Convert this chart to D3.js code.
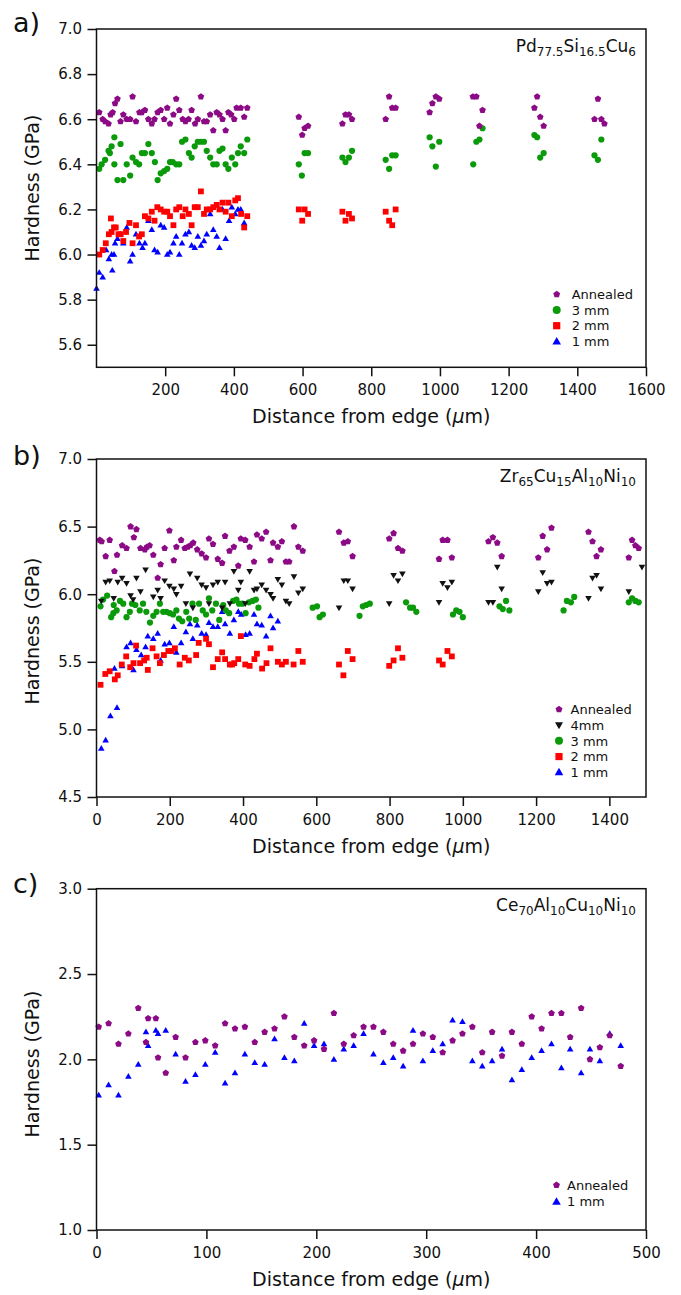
<!DOCTYPE html>
<html>
<head>
<meta charset="utf-8">
<script src="https://cdn.jsdelivr.net/npm/d3@7"></script>
<style>
  body { margin: 0; background: #fff; }
  svg { display: block; }
  text { font-family: "DejaVu Sans", sans-serif; fill: #111; }
</style>
</head>
<body>
<svg id="chart" width="681" height="1295"></svg>
<script>
/* ---- data: [distance um, hardness GPa] ---- */
const pdAnnealed = [[8,6.63],[18,6.60],[25,6.59],[35,6.58],[41,6.62],[47,6.63],[54,6.67],[61,6.69],[70,6.59],[78,6.62],[88,6.60],[98,6.60],[105,6.70],[115,6.59],[125,6.63],[132,6.63],[141,6.64],[151,6.60],[161,6.58],[169,6.60],[178,6.63],[187,6.64],[197,6.60],[206,6.65],[214,6.58],[224,6.62],[232,6.69],[241,6.64],[251,6.60],[259,6.59],[268,6.60],[277,6.64],[287,6.58],[295,6.60],[304,6.70],[313,6.59],[321,6.59],[331,6.62],[340,6.55],[350,6.63],[358,6.62],[367,6.60],[376,6.55],[384,6.63],[392,6.62],[401,6.60],[408,6.65],[420,6.65],[430,6.61],[439,6.65],[589,6.61],[599,6.53],[606,6.56],[616,6.57],[716,6.58],[725,6.62],[735,6.62],[744,6.60],[842,6.60],[852,6.70],[861,6.65],[871,6.65],[970,6.63],[978,6.67],[988,6.70],[998,6.69],[1096,6.70],[1106,6.70],[1115,6.57],[1124,6.64],[1275,6.65],[1283,6.70],[1292,6.61],[1302,6.57],[1450,6.60],[1460,6.69],[1470,6.60],[1479,6.58]];
const pd3mm = [[8,6.38],[15,6.40],[25,6.42],[35,6.46],[39,6.45],[44,6.48],[52,6.52],[52,6.40],[61,6.33],[70,6.49],[78,6.33],[88,6.40],[98,6.35],[105,6.43],[115,6.41],[124,6.40],[132,6.45],[141,6.45],[151,6.49],[161,6.45],[170,6.41],[178,6.33],[187,6.36],[197,6.37],[206,6.38],[214,6.41],[222,6.41],[232,6.40],[241,6.40],[249,6.50],[259,6.51],[269,6.45],[277,6.43],[286,6.48],[295,6.50],[304,6.50],[313,6.50],[321,6.46],[331,6.43],[340,6.40],[350,6.40],[358,6.46],[367,6.47],[376,6.40],[384,6.38],[394,6.43],[404,6.40],[412,6.45],[420,6.48],[430,6.45],[439,6.51],[589,6.40],[598,6.35],[606,6.45],[616,6.45],[716,6.43],[725,6.41],[735,6.43],[744,6.46],[842,6.42],[852,6.38],[861,6.44],[871,6.44],[970,6.52],[978,6.48],[988,6.39],[998,6.50],[1097,6.40],[1106,6.50],[1115,6.51],[1124,6.56],[1275,6.53],[1283,6.52],[1292,6.43],[1302,6.45],[1450,6.44],[1460,6.42],[1470,6.51]];
const pd2mm = [[8,6.00],[18,6.02],[27,6.05],[36,6.09],[42,6.16],[44,6.10],[51,6.12],[56,6.12],[64,6.09],[70,6.09],[78,6.06],[86,6.10],[96,6.14],[105,6.05],[115,6.13],[124,6.08],[132,6.09],[141,6.17],[151,6.16],[161,6.19],[169,6.15],[177,6.21],[187,6.20],[197,6.19],[206,6.19],[214,6.17],[224,6.13],[232,6.20],[241,6.21],[251,6.17],[259,6.20],[269,6.18],[277,6.13],[286,6.21],[295,6.21],[304,6.28],[313,6.18],[321,6.20],[331,6.20],[340,6.21],[350,6.22],[358,6.20],[367,6.23],[376,6.19],[384,6.23],[394,6.17],[404,6.24],[412,6.25],[421,6.18],[430,6.12],[439,6.17],[589,6.20],[599,6.15],[606,6.20],[616,6.18],[716,6.19],[725,6.15],[735,6.18],[744,6.16],[842,6.19],[852,6.15],[861,6.13],[871,6.20]];
const pd1mm = [[0,5.85],[8,5.92],[18,5.90],[28,6.02],[36,5.98],[44,6.00],[46,5.93],[51,6.00],[54,6.05],[61,6.07],[70,6.09],[78,6.05],[88,6.12],[98,5.97],[105,6.00],[115,6.09],[125,6.05],[134,6.03],[141,6.05],[151,6.15],[161,6.11],[169,6.02],[178,6.01],[187,6.13],[197,6.12],[206,6.00],[214,6.01],[224,6.05],[232,6.08],[241,6.00],[249,6.05],[259,6.09],[269,6.10],[277,6.04],[286,6.03],[295,6.08],[304,6.04],[313,6.06],[321,6.09],[331,6.18],[340,6.11],[350,6.08],[358,6.03],[367,6.20],[376,6.07],[386,6.15],[394,6.21],[404,6.18],[412,6.20],[420,6.20],[430,6.14]];

const zrAnnealed = [[9,6.40],[14,6.39],[25,6.28],[36,6.40],[49,6.17],[56,6.29],[70,6.36],[82,6.34],[93,6.50],[102,6.42],[109,6.48],[120,6.34],[132,6.33],[138,6.35],[145,6.36],[155,6.29],[167,6.12],[175,6.22],[186,6.34],[199,6.47],[211,6.25],[218,6.35],[231,6.40],[241,6.34],[249,6.35],[256,6.36],[264,6.38],[275,6.33],[287,6.30],[299,6.27],[307,6.41],[318,6.37],[331,6.26],[343,6.23],[351,6.43],[363,6.32],[375,6.35],[387,6.21],[394,6.41],[406,6.40],[418,6.35],[430,6.24],[438,6.44],[451,6.41],[463,6.46],[475,6.25],[482,6.38],[495,6.35],[506,6.39],[517,6.24],[526,6.24],[539,6.50],[551,6.35],[563,6.32],[662,6.46],[675,6.38],[686,6.39],[699,6.28],[799,6.41],[811,6.45],[823,6.34],[835,6.32],[935,6.26],[945,6.40],[958,6.40],[970,6.27],[1070,6.39],[1082,6.42],[1094,6.38],[1106,6.28],[1206,6.27],[1218,6.43],[1230,6.33],[1242,6.49],[1343,6.46],[1354,6.39],[1365,6.28],[1377,6.33],[1453,6.27],[1462,6.40],[1471,6.36],[1480,6.34]];
const zr4mm = [[13,5.95],[25,6.09],[36,6.10],[47,5.97],[58,6.09],[70,6.12],[82,6.08],[93,5.99],[100,5.96],[109,6.12],[120,6.02],[134,6.18],[155,5.98],[167,6.03],[175,5.97],[186,6.10],[199,6.06],[211,6.04],[218,6.00],[231,6.06],[244,5.93],[255,6.15],[263,5.90],[275,6.12],[287,6.07],[299,6.05],[307,5.93],[318,6.07],[331,6.09],[343,5.90],[351,6.09],[364,5.93],[375,6.17],[387,6.03],[394,6.09],[406,5.93],[418,6.17],[430,6.03],[438,6.04],[451,6.07],[463,6.03],[475,6.00],[482,5.97],[495,6.11],[506,6.07],[517,5.95],[526,5.93],[539,6.13],[551,6.01],[563,6.04],[662,5.90],[675,6.10],[686,6.10],[699,6.04],[799,5.93],[811,6.14],[823,6.10],[835,6.15],[935,5.94],[945,6.08],[958,6.05],[970,6.09],[1070,5.94],[1082,5.94],[1094,6.20],[1106,6.04],[1206,6.02],[1218,6.16],[1230,6.08],[1242,6.09],[1343,5.97],[1354,6.12],[1365,6.14],[1377,6.04],[1453,6.02],[1489,6.20]];
const zr3mm = [[11,5.91],[18,5.96],[29,5.99],[40,5.83],[46,5.86],[47,5.92],[55,5.88],[64,5.95],[73,5.93],[82,5.83],[91,5.87],[97,5.93],[106,5.92],[118,5.88],[127,5.93],[136,5.87],[146,5.79],[155,5.84],[164,5.87],[173,5.93],[182,5.87],[191,5.87],[200,5.86],[209,5.85],[218,5.88],[225,5.82],[234,5.80],[245,5.87],[253,5.82],[262,5.93],[271,5.81],[280,5.93],[290,5.88],[299,5.85],[307,5.97],[316,5.88],[326,5.93],[335,5.81],[346,5.92],[353,5.88],[362,5.86],[373,5.95],[382,5.96],[389,5.93],[398,5.93],[407,5.86],[416,5.94],[426,5.95],[435,5.96],[442,5.90],[590,5.90],[602,5.91],[609,5.83],[618,5.85],[718,5.84],[727,5.91],[736,5.92],[746,5.93],[845,5.94],[856,5.90],[864,5.90],[873,5.87],[973,5.85],[982,5.88],[991,5.87],[1000,5.83],[1100,5.91],[1109,5.89],[1118,5.95],[1127,5.88],[1275,5.88],[1284,5.95],[1295,5.94],[1304,5.98],[1453,5.94],[1462,5.97],[1471,5.95],[1480,5.94]];
const zr2mm = [[11,5.33],[24,5.41],[36,5.43],[50,5.37],[58,5.40],[69,5.48],[81,5.54],[92,5.46],[101,5.49],[108,5.62],[119,5.49],[130,5.51],[137,5.53],[140,5.44],[153,5.60],[164,5.54],[173,5.49],[184,5.55],[196,5.58],[205,5.58],[214,5.60],[227,5.48],[241,5.53],[252,5.51],[272,5.55],[279,5.64],[299,5.67],[307,5.63],[318,5.46],[331,5.52],[343,5.57],[351,5.52],[364,5.48],[370,5.48],[376,5.49],[387,5.52],[394,5.69],[406,5.48],[418,5.47],[431,5.52],[438,5.56],[452,5.45],[464,5.49],[475,5.60],[495,5.50],[506,5.48],[517,5.50],[538,5.48],[551,5.58],[563,5.50],[662,5.48],[674,5.40],[686,5.58],[699,5.52],[799,5.47],[811,5.51],[823,5.60],[835,5.53],[935,5.51],[945,5.48],[958,5.58],[970,5.54]];
const zr1mm = [[13,4.86],[25,4.92],[38,5.10],[56,5.16],[49,5.45],[70,5.47],[82,5.61],[93,5.64],[101,5.44],[109,5.59],[122,5.55],[134,5.61],[140,5.69],[155,5.67],[167,5.71],[175,5.51],[186,5.63],[199,5.64],[211,5.76],[218,5.57],[231,5.64],[244,5.72],[255,5.78],[263,5.67],[275,5.77],[287,5.71],[299,5.70],[307,5.79],[318,5.76],[331,5.76],[343,5.87],[351,5.78],[364,5.71],[375,5.81],[387,5.87],[395,5.85],[407,5.70],[418,5.71],[430,5.85],[438,5.78],[451,5.77],[463,5.69],[475,5.84],[482,5.75],[495,5.80]];

const ceAnnealed = [[2,2.19],[11,2.21],[20,2.09],[29,2.15],[38,2.30],[45,2.10],[47,2.24],[54,2.24],[56,2.01],[63,1.92],[72,2.13],[81,2.01],[90,2.10],[99,2.11],[108,2.08],[117,2.21],[126,2.18],[135,2.19],[144,2.10],[153,2.16],[162,2.18],[171,2.25],[180,2.13],[189,2.08],[198,2.11],[207,2.06],[216,2.27],[225,2.09],[234,2.14],[243,2.19],[252,2.19],[261,2.16],[270,2.09],[279,2.05],[288,2.09],[297,2.15],[306,2.13],[315,2.04],[324,2.11],[333,2.15],[342,2.19],[351,2.04],[360,2.16],[369,2.02],[378,2.16],[387,2.09],[396,2.25],[405,2.18],[414,2.27],[423,2.27],[431,2.13],[441,2.30],[449,2.00],[458,2.07],[467,2.14],[477,1.96]];
const ce1mm = [[2,1.79],[11,1.85],[20,1.79],[29,1.90],[38,1.97],[45,2.16],[47,2.08],[54,2.17],[56,2.15],[63,2.17],[72,2.03],[81,1.87],[90,1.91],[99,1.97],[108,2.04],[117,1.86],[126,1.92],[135,2.03],[144,1.98],[153,1.97],[162,2.12],[171,2.01],[180,1.99],[189,2.21],[198,2.08],[207,2.09],[216,2.00],[225,2.06],[234,2.08],[243,2.15],[252,2.03],[261,1.98],[270,2.01],[279,1.96],[288,2.17],[297,1.99],[306,2.05],[315,2.09],[324,2.23],[333,2.22],[342,1.99],[351,1.96],[360,1.99],[369,2.06],[378,1.88],[387,1.94],[396,2.01],[405,2.05],[414,2.09],[423,1.95],[431,2.06],[441,1.92],[449,2.06],[458,1.99],[467,2.15],[477,2.08]];

/* ticks */
const pdXTicks = [200, 400, 600, 800, 1000, 1200, 1400, 1600];
const pdYTicks = [5.6, 5.8, 6.0, 6.2, 6.4, 6.6, 6.8, 7.0];
const zrXTicks = [0, 200, 400, 600, 800, 1000, 1200, 1400];
const zrYTicks = [4.5, 5.0, 5.5, 6.0, 6.5, 7.0];
const ceXTicks = [0, 100, 200, 300, 400, 500];
const ceYTicks = [1.0, 1.5, 2.0, 2.5, 3.0];

/* marker shapes */
const pentagon = { draw(ctx, r) {
  for (let i = 0; i < 5; i++) {
    const a = -Math.PI / 2 + i * 2 * Math.PI / 5;
    const x = r * Math.cos(a), y = r * Math.sin(a);
    if (i === 0) ctx.moveTo(x, y); else ctx.lineTo(x, y);
  }
  ctx.closePath();
}};
const dot = { draw(ctx, r) { ctx.moveTo(r, 0); ctx.arc(0, 0, r, 0, 2 * Math.PI); }};
const square = { draw(ctx, s) { ctx.rect(-s / 2, -s / 2, s, s); }};
const triUp = { draw(ctx, w) {
  const h = w * 0.87;
  ctx.moveTo(0, -h * 0.6); ctx.lineTo(w / 2, h * 0.4); ctx.lineTo(-w / 2, h * 0.4); ctx.closePath();
}};
const triDown = { draw(ctx, w) {
  const h = w * 0.87;
  ctx.moveTo(0, h * 0.6); ctx.lineTo(w / 2, -h * 0.4); ctx.lineTo(-w / 2, -h * 0.4); ctx.closePath();
}};

const purple = "#8c0a86", green = "#0a9a0a", red = "#ff0000", blue = "#0000ff", black = "#111111";
const sAnn = { sym: pentagon, size: 3.5, legSize: 3.6, color: purple, text: "#961c8e", label: "Annealed" };
const s4 = { sym: triDown, size: 6.6, legSize: 8, color: black, text: "#111", label: "4mm" };
const s3 = { sym: dot, size: 3.1, legSize: 4, color: green, text: "#1a9e1a", label: "3 mm" };
const s2 = { sym: square, size: 5.8, legSize: 7.2, color: red, text: "#f01010", label: "2 mm" };
const s1 = { sym: triUp, size: 6.6, legSize: 8.6, color: blue, text: "#1838dd", label: "1 mm" };

const svg = d3.select("#chart");
const left = 96.5, right = 646;

function drawPanel(p) {
  const x = d3.scaleLinear().domain(p.xDomain).range([left, right]);
  const y = d3.scaleLinear().domain(p.yDomain).range([p.bottom, p.top]);
  const g = svg.append("g");

  // series (last listed drawn first, so annealed sits on top)
  p.series.slice().reverse().forEach(s => {
    g.append("g").selectAll("path").data(s.data).enter().append("path")
      .attr("d", d3.symbol(s.style.sym, s.style.size))
      .attr("transform", d => "translate(" + x(d[0]) + "," + y(d[1]) + ")")
      .attr("fill", s.style.color);
  });

  // frame
  g.append("rect").attr("x", left).attr("y", p.top)
    .attr("width", right - left).attr("height", p.bottom - p.top)
    .attr("fill", "none").attr("stroke", "#111").attr("stroke-width", 1.5);

  const xAxis = d3.axisBottom(x).tickValues(p.xTicks).tickSize(9).tickSizeOuter(0).tickPadding(8).tickFormat(d3.format("d"));
  const gx = g.append("g").attr("transform", "translate(0," + p.bottom + ")").call(xAxis);
  const yAxis = d3.axisLeft(y).tickValues(p.yTicks).tickSize(9).tickSizeOuter(0).tickPadding(5.5).tickFormat(d3.format(".1f"));
  const gy = g.append("g").attr("transform", "translate(" + left + ",0)").call(yAxis);
  [gx, gy].forEach(a => {
    a.select(".domain").remove();
    a.selectAll("line").attr("stroke", "#111").attr("stroke-width", 1.5);
    a.selectAll("text").attr("font-family", "DejaVu Sans").attr("font-size", 15).attr("fill", "#111");
  });

  // titles
  const xt = g.append("text").attr("x", (left + right) / 2).attr("y", p.bottom + 56)
    .attr("text-anchor", "middle").attr("font-size", 19);
  xt.append("tspan").text("Distance from edge (");
  xt.append("tspan").attr("font-style", "italic").text("\u03bc");
  xt.append("tspan").text("m)");
  g.append("text").attr("transform", "translate(39," + p.yTitle + ") rotate(-90)")
    .attr("text-anchor", "middle").attr("font-size", 19).text("Hardness (GPa)");

  g.append("text").attr("x", 13).attr("y", p.labelY).attr("font-size", 27).text(p.label);

  // compound name with subscripts
  const ct = g.append("text").attr("x", right - 10).attr("y", p.top + 22.7)
    .attr("text-anchor", "end").attr("font-family", "Liberation Sans").attr("font-size", 17);
  p.compound.forEach((part, i) => {
    const t = ct.append("tspan").text(part);
    if (i % 2 === 1) t.attr("font-size", 12).attr("dy", 4);
    else if (i > 0) t.attr("dy", -4);
  });

  // legend
  p.series.forEach((s, i) => {
    const ly = p.legY + i * p.legStep;
    g.append("path").attr("d", d3.symbol(s.style.sym, s.style.legSize))
      .attr("transform", "translate(" + p.legX + "," + ly + ")").attr("fill", s.style.color);
    g.append("text").attr("x", p.legX + p.legGap).attr("y", ly + 4.7)
      .attr("font-size", 13).attr("fill", s.style.text).text(s.style.label);
  });
}

drawPanel({
  top: 29, bottom: 367.3, xDomain: [0, 1600], yDomain: [5.5, 7.0],
  xTicks: pdXTicks, yTicks: pdYTicks, yTitle: 188, label: "a)", labelY: 32,
  compound: ["Pd", "77.5", "Si", "16.5", "Cu", "6"],
  series: [{ data: pdAnnealed, style: sAnn }, { data: pd3mm, style: s3 }, { data: pd2mm, style: s2 }, { data: pd1mm, style: s1 }],
  legX: 556.7, legGap: 15, legY: 294.3, legStep: 15.7
});

drawPanel({
  top: 459, bottom: 797, xDomain: [0, 1500], yDomain: [4.5, 7.0],
  xTicks: zrXTicks, yTicks: zrYTicks, yTitle: 631, label: "b)", labelY: 465,
  compound: ["Zr", "65", "Cu", "15", "Al", "10", "Ni", "10"],
  series: [{ data: zrAnnealed, style: sAnn }, { data: zr4mm, style: s4 }, { data: zr3mm, style: s3 }, { data: zr2mm, style: s2 }, { data: zr1mm, style: s1 }],
  legX: 559, legGap: 11.5, legY: 709.3, legStep: 15.75
});

drawPanel({
  top: 888.7, bottom: 1230, xDomain: [0, 500], yDomain: [1.0, 3.0],
  xTicks: ceXTicks, yTicks: ceYTicks, yTitle: 1064, label: "c)", labelY: 893,
  compound: ["Ce", "70", "Al", "10", "Cu", "10", "Ni", "10"],
  series: [{ data: ceAnnealed, style: sAnn }, { data: ce1mm, style: s1 }],
  legX: 556.5, legGap: 10.5, legY: 1185, legStep: 16.7
});
</script>
</body>
</html>
